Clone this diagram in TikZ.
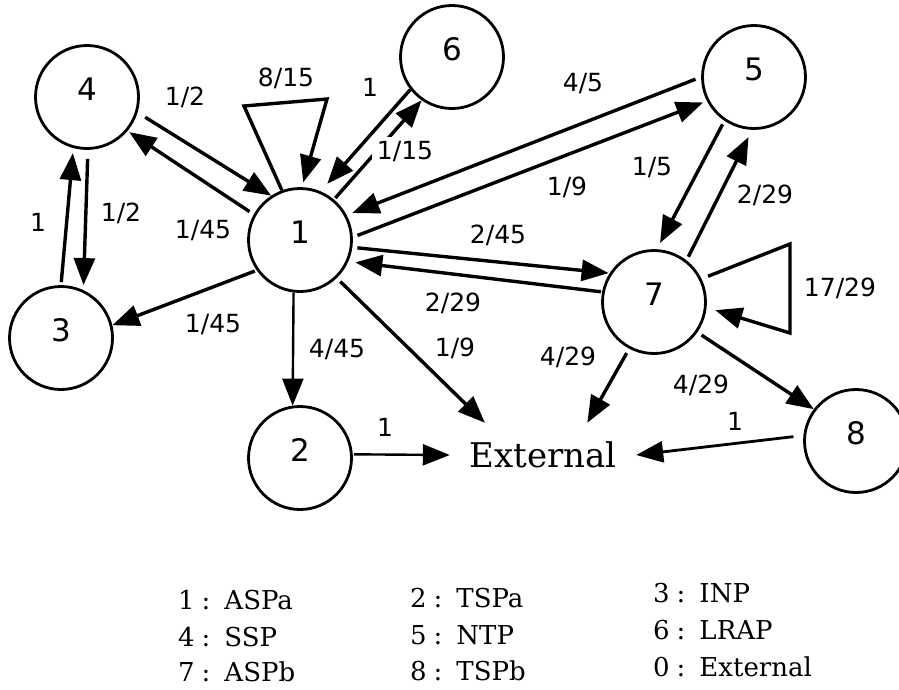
\documentclass[tikz,border=0pt]{standalone}
\usepackage{fontspec}
\setmainfont{DejaVu Serif}
\newfontfamily\lblsans{DejaVu Sans}
\usetikzlibrary{arrows.meta}

\begin{document}
\begin{tikzpicture}[x=1pt,y=-1pt,
  state/.style={circle, draw, line width=2.8pt, minimum size=103pt, inner sep=0pt},
  arr/.style={-{Triangle[length=27pt,width=21pt]}, line width=3.4pt},
  thinarr/.style={-{Triangle[length=27pt,width=21pt]}, line width=2.4pt},
  wt/.style={font=\lblsans\fontsize{25}{25}\selectfont, inner sep=0pt},
  num/.style={font=\lblsans\fontsize{31}{31}\selectfont, yshift=8pt},
  legend/.style={anchor=base west, inner sep=0pt, font=\fontsize{26}{26}\selectfont},
  extbox/.style={minimum width=186pt, minimum height=64pt, inner sep=0pt, font=\fontsize{34}{34}\selectfont}]

\useasboundingbox (0,0) rectangle (899,689);

% states
\node[state, label={[num]center:1}] (n1) at (300,240) {};
\node[state, label={[num]center:2}] (n2) at (300,458) {};
\node[state, label={[num]center:3}] (n3) at (61,338) {};
\node[state, label={[num]center:4}] (n4) at (87,97) {};
\node[state, label={[num]center:5}] (n5) at (754,77) {};
\node[state, label={[num]center:6}] (n6) at (452,57) {};
\node[state, label={[num]center:7}] (n7) at (654,302) {};
\node[state, label={[num]center:8}] (n8) at (856,441) {};
\node[extbox] (ext) at (543,455) {External};

% corners of the self-loops
\coordinate (l1a) at (244,106);
\coordinate (l1b) at (327,99);
\coordinate (l7a) at (790,244);
\coordinate (l7b) at (790,333);

% transitions between 1, 3 and 4
\draw[arr, shorten <=9pt] (n4.-17) -- (n1.123);
\draw[arr, shorten <=5pt, shorten >=2pt] (n1.151) -- (n4.-40);
\draw[arr, shorten <=9pt, shorten >=5pt] (n4.-89) -- (n3.65);
\draw[arr, shorten <=3pt, shorten >=5pt] (n3.90) -- (n4.-105);
\draw[arr, shorten <=2pt] (n1.215) -- (n3.14);

% self-loop of 1
\draw[arr, shorten >=5pt] (n1.110) -- (l1a) -- (l1b) -- (n1.88);

% transitions between 1 and 6
\draw[arr, shorten >=10pt] (n6.-142) -- (n1.67);
\draw[arr, shorten <=2pt] (n1.50) -- (n6.-125);

% transitions between 1 and 5
\draw[arr, shorten <=6pt, shorten >=6pt] (n5.180) -- (n1.28);
\draw[arr, shorten <=5pt, shorten >=4pt] (n1.3) -- (n5.-153);

% transitions between 5 and 7
\draw[arr, shorten <=4pt, shorten >=7pt] (n5.-124) -- (n7.87);
\draw[arr, shorten <=4pt, shorten >=8pt] (n7.52) -- (n5.-92);

% transitions between 1 and 7
\draw[arr, shorten <=5pt, shorten >=1pt] (n1.-8) -- (n7.147);
\draw[arr, shorten <=1pt, shorten >=7pt] (n7.169) -- (n1.-24);

% self-loop of 7
\draw[arr, shorten <=7pt, shorten >=9pt] (n7.26) -- (l7a) -- (l7b) -- (n7.-6);

% exits
\draw[arr, shorten <=5pt] (n7.-118) -- (ext.36);
\draw[arr, shorten <=5pt] (n7.-35.6) -- (n8.143);
\draw[arr, line width=2.8pt, shorten <=10pt] (n8.174) -- (ext.east);
\draw[arr, shorten <=5pt] (n1.-46) -- (ext.151);
\draw[thinarr, shorten <=1pt] (n2.4) -- (ext.west);
\draw[thinarr] (n1.-97) -- (n2.98);

% transition probabilities
\node[wt] (w41) at (185,97) {1/2};
\node[wt] (w14) at (203,231) {1/45};
\node[wt] (w43) at (121,213) {1/2};
\node[wt] (w34) at (38,222) {1};
\node[wt] (w13) at (213,325) {1/45};
\node[wt] (w11) at (286,78) {8/15};
\node[wt] (w61) at (370,87) {1};
\node[wt, fill=white, inner sep=5pt] (w16) at (405,152) {1/15};
\node[wt] (w51) at (583,84) {4/5};
\node[wt] (w15) at (567,187) {1/9};
\node[wt] (w57) at (652,168) {1/5};
\node[wt] (w75) at (765,195) {2/29};
\node[wt] (w17) at (498,235) {2/45};
\node[wt] (w71) at (453,303) {2/29};
\node[wt] (w77) at (840,288) {17/29};
\node[wt] (w70) at (568,357) {4/29};
\node[wt] (w78) at (701,385) {4/29};
\node[wt] (w80) at (735,421) {1};
\node[wt] (w10) at (455,348) {1/9};
\node[wt] (w20) at (385,427) {1};
\node[wt] (w12) at (337,350) {4/45};

% legend
\node[legend] (k1) at (178,609) {1\hspace{7pt}:\hspace{14pt}ASPa};
\node[legend] (k4) at (178,646) {4\hspace{7pt}:\hspace{14pt}SSP};
\node[legend] (k7) at (178,681) {7\hspace{7pt}:\hspace{14pt}ASPb};
\node[legend] (k2) at (410,607) {2\hspace{7pt}:\hspace{14pt}TSPa};
\node[legend] (k5) at (410,644) {5\hspace{7pt}:\hspace{14pt}NTP};
\node[legend] (k8) at (410,680) {8\hspace{7pt}:\hspace{14pt}TSPb};
\node[legend] (k3) at (653,602) {3\hspace{7pt}:\hspace{14pt}INP};
\node[legend] (k6) at (653,639) {6\hspace{7pt}:\hspace{14pt}LRAP};
\node[legend] (k0) at (653,676) {0\hspace{7pt}:\hspace{14pt}External};
\end{tikzpicture}
\end{document}
